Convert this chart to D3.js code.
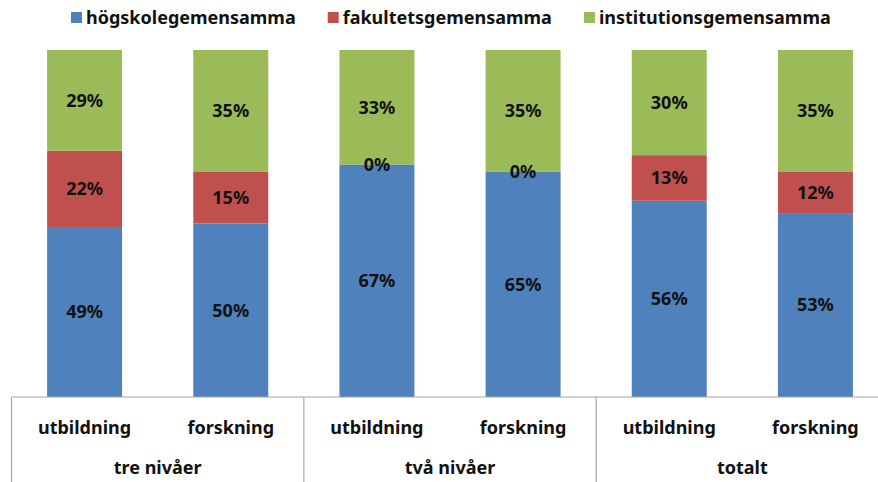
<!DOCTYPE html>
<html>
<head>
<meta charset="utf-8">
<script src="https://cdn.jsdelivr.net/npm/d3@7"></script>
<style>
  body { margin: 0; background: #fff; }
  svg { display: block; font-family: "Noto Sans", sans-serif; font-weight: bold; }
</style>
</head>
<body>
<div id="chart"></div>
<script>
// data
var groups = ["tre nivåer", "två nivåer", "totalt"];
var kinds = ["utbildning", "forskning"];
var seriesNames = ["högskolegemensamma", "fakultetsgemensamma", "institutionsgemensamma"];
var hogskole = [49, 50, 67, 65, 56, 53];
var fakultet = [22, 15, 0, 0, 13, 12];
var institution = [29, 35, 33, 35, 30, 35];
var colors = ["#4f81bd", "#c0504d", "#9bbb59"];

var svgWidth = 878;
var svgHeight = 482;
var baseY = 397;
var topY = 50;

var svg = d3.select("#chart")
  .append("svg")
  .attr("width", svgWidth)
  .attr("height", svgHeight);

// one row per bar
var rows = [];
groups.forEach(function(g, gi) {
  kinds.forEach(function(k, ki) {
    var i = gi * kinds.length + ki;
    rows.push({
      key: g + "|" + k,
      group: g,
      kind: k,
      högskolegemensamma: hogskole[i],
      fakultetsgemensamma: fakultet[i],
      institutionsgemensamma: institution[i]
    });
  });
});

var x = d3.scaleBand()
  .domain(rows.map(d => d.key))
  .range([11.5, 888.5])
  .paddingInner(0.487)
  .paddingOuter(0.2435);

// 100% stacked, so every bar fills the full height
var y = d3.scaleLinear()
  .domain([0, 1])
  .range([baseY, topY]);

var color = d3.scaleOrdinal()
  .domain(seriesNames)
  .range(colors);

var stacked = d3.stack()
  .keys(seriesNames)
  .offset(d3.stackOffsetExpand)(rows);

var layers = svg.append("g").selectAll("g")
  .data(stacked)
  .enter()
  .append("g")
  .attr("fill", d => color(d.key));

layers.selectAll("rect")
  .data(d => d)
  .enter()
  .append("rect")
  .attr("x", d => x(d.data.key))
  .attr("width", x.bandwidth())
  .attr("y", d => y(d[1]))
  .attr("height", d => y(d[0]) - y(d[1]));

// percent labels, on top of all the rects
var labels = [];
stacked.forEach(function(layer) {
  layer.forEach(function(d) {
    labels.push({ key: d.data.key, y0: d[0], y1: d[1], value: d.data[layer.key] });
  });
});

svg.append("g").selectAll("text")
  .data(labels)
  .enter()
  .append("text")
  .attr("x", d => x(d.key) + x.bandwidth() / 2)
  .attr("y", d => (y(d.y0) + y(d.y1)) / 2)
  .attr("dy", "0.35em")
  .attr("text-anchor", "middle")
  .attr("font-size", "18px")
  .attr("fill", "#111")
  .text(d => d.value + "%");

// category axis with two levels
var axisG = svg.append("g")
  .attr("stroke", "#a6a6a6")
  .attr("stroke-width", 1.2);

axisG.append("line")
  .attr("x1", x.range()[0])
  .attr("x2", svgWidth)
  .attr("y1", baseY)
  .attr("y2", baseY);

var step = x.step();
groups.forEach(function(g, gi) {
  var gx = x.range()[0] + gi * kinds.length * step;
  axisG.append("line")
    .attr("x1", gx).attr("x2", gx)
    .attr("y1", baseY).attr("y2", svgHeight);
});

svg.append("g").selectAll("text")
  .data(rows)
  .enter()
  .append("text")
  .attr("x", d => x(d.key) + x.bandwidth() / 2)
  .attr("y", 434)
  .attr("text-anchor", "middle")
  .attr("font-size", "18px")
  .attr("fill", "#111")
  .text(d => d.kind);

svg.append("g").selectAll("text")
  .data(groups)
  .enter()
  .append("text")
  .attr("x", (d, i) => x.range()[0] + (i + 0.5) * kinds.length * step)
  .attr("y", 474)
  .attr("text-anchor", "middle")
  .attr("font-size", "18px")
  .attr("fill", "#111")
  .text(d => d);

// legend
var legend = svg.append("g");
var lx = 71;
seriesNames.forEach(function(name) {
  legend.append("rect")
    .attr("x", lx)
    .attr("y", 12)
    .attr("width", 11)
    .attr("height", 11)
    .attr("fill", color(name));
  var t = legend.append("text")
    .attr("x", lx + 15)
    .attr("y", 24)
    .attr("font-size", "18px")
    .attr("fill", "#111")
    .text(name);
  lx += 15 + t.node().getComputedTextLength() + 32;
});
</script>
</body>
</html>
